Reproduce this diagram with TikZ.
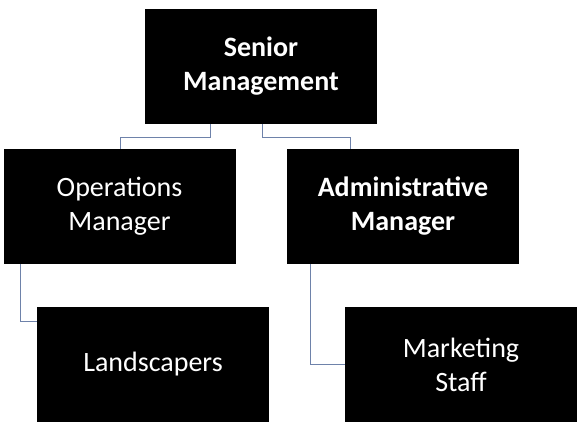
\documentclass[tikz,border=0pt]{standalone}
\usepackage{fontspec}
\setmainfont{Carlito}
\begin{document}
\begin{tikzpicture}[x=1pt,y=-1pt,
 box/.style={fill=black,text=white,minimum width=232pt,minimum height=115pt,align=center,inner sep=0pt,font=\fontsize{28}{34}\selectfont},
 con/.style={draw={rgb,255:red,110;green,130;blue,170},line width=0.8pt}]
\useasboundingbox (0,0) rectangle (587,440);
\node[box,font=\fontsize{28}{34}\selectfont\bfseries] (sm) at (261,66.5) {Senior\\Management};
\node[box] (om) at (119.5,206.5) {Operations\\Manager};
\node[box,font=\fontsize{28}{34}\selectfont\bfseries] (am) at (403,206.5) {Administrative\\Manager};
\node[box] (ls) at (153,364.5) {Landscapers};
\node[box] (ms) at (461,364.5) {Marketing\\Staff};
\coordinate (a1) at (210,137); \coordinate (a2) at (120,137);
\coordinate (b1) at (262,137); \coordinate (b2) at (350,137);
\draw[con] (sm.south -| a1) -- (a1) -- (a2) -- (om.north -| a2);
\draw[con] (sm.south -| b1) -- (b1) -- (b2) -- (am.north -| b2);
\coordinate (c1) at (20,321); \coordinate (d1) at (310,364);
\draw[con] (om.south -| c1) -- (c1) -- (ls.west |- c1);
\draw[con] (am.south -| d1) -- (d1) -- (ms.west |- d1);
\end{tikzpicture}
\end{document}
